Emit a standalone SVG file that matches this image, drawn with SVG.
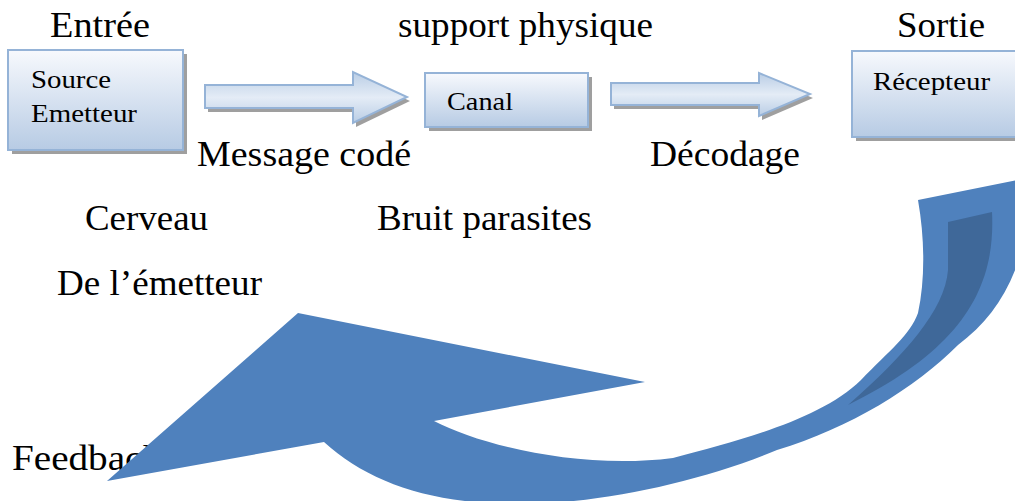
<svg xmlns="http://www.w3.org/2000/svg" width="1015" height="501" viewBox="0 0 1015 501">
<defs>
<linearGradient id="boxg" x1="0" y1="0" x2="0" y2="1">
<stop offset="0" stop-color="#f7f9fd"/>
<stop offset="1" stop-color="#b7cbe4"/>
</linearGradient>
<linearGradient id="arrg" x1="0" y1="0" x2="0" y2="1">
<stop offset="0" stop-color="#b9cde5"/>
<stop offset="0.5" stop-color="#e4ecf6"/>
<stop offset="1" stop-color="#b9cde5"/>
</linearGradient>
<style>
.box{fill:url(#boxg);stroke:#95b3d7;stroke-width:2}
.shadow{fill:#7f7f7f;opacity:0.75}
.arr{fill:url(#arrg);stroke:#95b3d7;stroke-width:2;stroke-linejoin:miter}
.big{font-size:36px;fill:#000}
.small{font-size:26px;fill:#000}
</style>
</defs>
<rect width="1015" height="501" fill="#fff"/>

<g id="labels" font-family="Liberation Serif, Times New Roman, serif">
<text class="big" x="50" y="37" textLength="100" lengthAdjust="spacingAndGlyphs">Entrée</text>
<text class="big" x="398" y="37" textLength="255" lengthAdjust="spacingAndGlyphs">support physique</text>
<text class="big" x="897" y="37" textLength="88" lengthAdjust="spacingAndGlyphs">Sortie</text>
<text class="big" x="197" y="166" textLength="214" lengthAdjust="spacingAndGlyphs">Message codé</text>
<text class="big" x="650" y="166" textLength="150" lengthAdjust="spacingAndGlyphs">Décodage</text>
<text class="big" x="85" y="230" textLength="123" lengthAdjust="spacingAndGlyphs">Cerveau</text>
<text class="big" x="377" y="230" textLength="215" lengthAdjust="spacingAndGlyphs">Bruit parasites</text>
<text class="big" x="57" y="295" textLength="205" lengthAdjust="spacingAndGlyphs">De l’émetteur</text>
<text class="big" x="12" y="470" textLength="150" lengthAdjust="spacingAndGlyphs">Feedback</text>
</g>

<g id="source" font-family="Liberation Serif, Times New Roman, serif">
<rect class="shadow" x="12" y="54" width="175" height="100"/>
<rect class="box" x="8" y="50" width="175" height="100"/>
<text class="small" x="31" y="88" textLength="80" lengthAdjust="spacingAndGlyphs">Source</text>
<text class="small" x="31" y="122" textLength="106" lengthAdjust="spacingAndGlyphs">Emetteur</text>
</g>

<g id="canal" font-family="Liberation Serif, Times New Roman, serif">
<rect class="shadow" x="429" y="77" width="163" height="54"/>
<rect class="box" x="425" y="73" width="163" height="54"/>
<text class="small" x="447" y="110" textLength="66" lengthAdjust="spacingAndGlyphs">Canal</text>
</g>

<g id="recepteur" font-family="Liberation Serif, Times New Roman, serif">
<rect class="shadow" x="856" y="55" width="170" height="86"/>
<rect class="box" x="852" y="51" width="170" height="86"/>
<text class="small" x="873" y="90" textLength="117" lengthAdjust="spacingAndGlyphs">Récepteur</text>
</g>

<g id="connectors">
<polygon class="shadow" points="208,89 356,89 356,76 410,101 356,127 356,112 208,112"/>
<polygon class="arr" points="205,85 353,85 353,72 407,97 353,123 353,108 205,108"/>
<polygon class="shadow" points="614,87 762,87 762,77 813,98 762,120 762,109 614,109"/>
<polygon class="arr" points="611,83 759,83 759,73 810,94 759,116 759,105 611,105"/>
<path id="feedback-arrow" fill="#4f81bd" d="M918,200 L1028,178 C1032,255 1005,310 958,345 C915,388 850,428 777,450 C700,482 600,504 518,504 C430,504 368,482 324,442 L107,481 L298,313 L645,382 L434,421 C480,445 580,470 673,458 C740,440 820,420 861,380 C890,350 910,335 918,313 C925,280 925,240 918,200 Z"/>
<path fill="#3f6899" d="M948,222 L992,212 C996,290 960,350 848,405 C905,355 945,310 948,270 Z"/>
</g>
</svg>
